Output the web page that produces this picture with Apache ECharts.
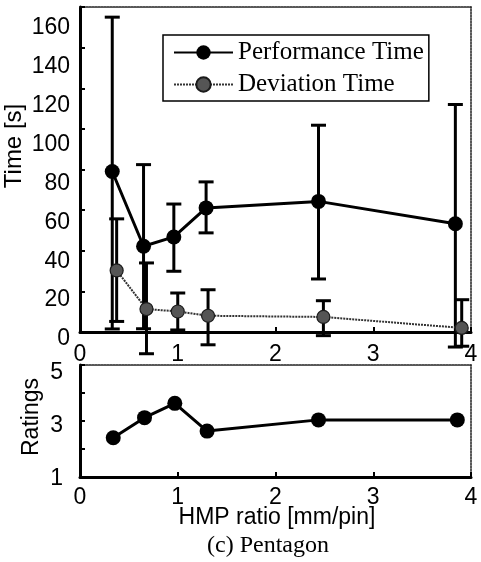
<!DOCTYPE html>
<html>
<head>
<meta charset="utf-8">
<script src="https://cdn.jsdelivr.net/npm/echarts@6/dist/echarts.min.js"></script>
<style>
html,body{margin:0;padding:0;background:#fff;}
#chart{width:481px;height:562px;}
</style>
</head>
<body>
<div id="chart"></div>
<script>
// ---- data ----
const xPerf = [0.33, 0.65, 0.96, 1.29, 2.44, 3.84];
const perfTime = [79, 42.2, 46.8, 61.1, 64.3, 53.3];
const perfLow = [1.5, 1.6, 29.9, 48.8, 26.1, -7.4];
const perfHigh = [155, 82.4, 63, 73.9, 101.8, 112];
const xDev = [0.375, 0.68, 1.0, 1.31, 2.49, 3.905];
const devTime = [30.3, 11.3, 10.1, 8.0, 7.4, 2.0];
const devLow = [5.2, -10.7, 1, -6.3, -1.8, -7];
const devHigh = [55.7, 34, 19.2, 20.8, 15.4, 15.9];
const xRatings = [0.34, 0.66, 0.97, 1.30, 2.44, 3.86];
const ratings = [2.40, 3.12, 3.63, 2.64, 3.04, 3.04];
const timeTicks = [0, 20, 40, 60, 80, 100, 120, 140, 160];
const xTicks = [0, 1, 2, 3, 4];
const ratingTicks = [1, 3, 5];

const SANS = 'Liberation Sans';
const SERIF = 'Liberation Serif';

function zip(a, b) { return a.map((v, i) => [v, b[i]]); }
function zip3(a, b, c) { return a.map((v, i) => [v, b[i], c[i]]); }

function errRender(params, api) {
  const x = api.value(0), lo = api.value(1), hi = api.value(2);
  const pLo = api.coord([x, lo]);
  const pHi = api.coord([x, hi]);
  const hw = 7.5;
  const style = { stroke: '#000', lineWidth: 3 };
  return {
    type: 'group',
    children: [
      { type: 'line', shape: { x1: pLo[0], y1: pLo[1], x2: pHi[0], y2: pHi[1] }, style: style },
      { type: 'line', shape: { x1: pLo[0] - hw, y1: pLo[1], x2: pLo[0] + hw, y2: pLo[1] }, style: style },
      { type: 'line', shape: { x1: pHi[0] - hw, y1: pHi[1], x2: pHi[0] + hw, y2: pHi[1] }, style: style }
    ]
  };
}

const borderLine = { show: true, onZero: false, lineStyle: { color: '#222', width: 1.5, type: [2, 1] } };
const solidAxis = { show: true, onZero: false, lineStyle: { color: '#000', width: 3 } };
const labelFont = { fontFamily: SANS, fontSize: 23, color: '#000' };
const innerTick = { show: true, inside: true, length: 5, lineStyle: { color: '#000', width: 2 } };

const chart = echarts.init(document.getElementById('chart'), null, { renderer: 'canvas' });
chart.setOption({
  animation: false,
  backgroundColor: '#fff',
  grid: [
    { left: 80, top: 7, width: 391, height: 325 },
    { left: 80, top: 365, width: 391, height: 112 },
    { left: 80, top: 28, width: 391, height: 311 },
    { left: 80, top: 373, width: 391, height: 106 }
  ],
  xAxis: [
    { gridIndex: 0, type: 'value', min: xTicks[0], max: xTicks[xTicks.length - 1], interval: 1,
      axisLine: solidAxis, axisTick: innerTick,
      axisLabel: Object.assign({ margin: 11, formatter: v => xTicks.includes(v) ? String(v) : '' }, labelFont),
      splitLine: { show: false } },
    { gridIndex: 0, type: 'value', position: 'top', min: 0, max: 4,
      axisLine: borderLine, axisTick: { show: false }, axisLabel: { show: false }, splitLine: { show: false } },
    { gridIndex: 1, type: 'value', min: xTicks[0], max: xTicks[xTicks.length - 1], interval: 1,
      axisLine: solidAxis, axisTick: innerTick,
      axisLabel: Object.assign({ margin: 9, formatter: v => xTicks.includes(v) ? String(v) : '' }, labelFont),
      splitLine: { show: false } },
    { gridIndex: 1, type: 'value', position: 'top', min: 0, max: 4,
      axisLine: borderLine, axisTick: { show: false }, axisLabel: { show: false }, splitLine: { show: false } },
    { gridIndex: 2, type: 'value', min: 0, max: 4, show: false },
    { gridIndex: 3, type: 'value', min: 0, max: 4, show: false }
  ],
  yAxis: [
    { gridIndex: 0, type: 'value', min: 0, max: 160, interval: 20,
      axisLine: solidAxis, axisTick: innerTick,
      axisLabel: { show: false }, splitLine: { show: false } },
    { gridIndex: 0, type: 'value', position: 'right', min: 0, max: 160,
      axisLine: borderLine, axisTick: { show: false }, axisLabel: { show: false }, splitLine: { show: false } },
    { gridIndex: 1, type: 'value', min: 1, max: 5, interval: 1,
      axisLine: solidAxis, axisTick: innerTick,
      axisLabel: { show: false }, splitLine: { show: false } },
    { gridIndex: 1, type: 'value', position: 'right', min: 1, max: 5,
      axisLine: borderLine, axisTick: { show: false }, axisLabel: { show: false }, splitLine: { show: false } },
    { gridIndex: 2, type: 'value', min: 0, max: 160, interval: 20,
      axisLine: { show: false }, axisTick: { show: false }, splitLine: { show: false },
      axisLabel: Object.assign({ margin: 10, formatter: v => timeTicks.includes(v) ? String(v) : '' }, labelFont) },
    { gridIndex: 3, type: 'value', min: 1, max: 5, interval: 1,
      axisLine: { show: false }, axisTick: { show: false }, splitLine: { show: false },
      axisLabel: Object.assign({ margin: 17, formatter: v => ratingTicks.includes(v) ? String(v) : '' }, labelFont) }
  ],
  legend: {
    orient: 'vertical', left: 163, top: 35,
    padding: [5, 5, 4, 10],
    borderColor: '#000', borderWidth: 1.5,
    itemWidth: 59, itemHeight: 18, itemGap: 7,
    textStyle: { fontFamily: SERIF, fontSize: 25, lineHeight: 25, color: '#000' },
    data: ['Performance Time', 'Deviation Time']
  },
  series: [
    { name: 'perfErr', type: 'custom', xAxisIndex: 0, yAxisIndex: 0, renderItem: errRender,
      encode: { x: 0, y: [1, 2] }, data: zip3(xPerf, perfLow, perfHigh), z: 2 },
    { name: 'devErr', type: 'custom', xAxisIndex: 0, yAxisIndex: 0, renderItem: errRender,
      encode: { x: 0, y: [1, 2] }, data: zip3(xDev, devLow, devHigh), z: 2 },
    { name: 'Deviation Time', type: 'line', xAxisIndex: 0, yAxisIndex: 0,
      data: zip(xDev, devTime), symbol: 'circle', symbolSize: 13,
      lineStyle: { color: '#333', width: 2, type: [2, 1] },
      itemStyle: { color: '#555', borderColor: '#1a1a1a', borderWidth: 1.2 }, z: 3 },
    { name: 'Performance Time', type: 'line', xAxisIndex: 0, yAxisIndex: 0,
      data: zip(xPerf, perfTime), symbol: 'circle', symbolSize: 15,
      lineStyle: { color: '#000', width: 3 },
      itemStyle: { color: '#000' }, z: 4 },
    { name: 'Ratings', type: 'line', xAxisIndex: 2, yAxisIndex: 2,
      data: zip(xRatings, ratings), symbol: 'circle', symbolSize: 15,
      lineStyle: { color: '#000', width: 3 },
      itemStyle: { color: '#000' }, z: 4 }
  ],
  graphic: [
    { type: 'text', x: 14, y: 146, rotation: Math.PI / 2,
      style: { text: 'Time [s]', font: '24px "Liberation Sans"', fill: '#000', textAlign: 'center', textVerticalAlign: 'middle' } },
    { type: 'text', x: 32, y: 417, rotation: Math.PI / 2,
      style: { text: 'Ratings', font: '23px "Liberation Sans"', fill: '#000', textAlign: 'center', textVerticalAlign: 'middle' } },
    { type: 'text', x: 277, y: 518,
      style: { text: 'HMP ratio [mm/pin]', font: '23px "Liberation Sans"', fill: '#000', textAlign: 'center', textVerticalAlign: 'middle' } },
    { type: 'text', x: 268, y: 546,
      style: { text: '(c) Pentagon', font: '24px "Liberation Serif"', fill: '#000', textAlign: 'center', textVerticalAlign: 'middle' } }
  ]
});
</script>
</body>
</html>
